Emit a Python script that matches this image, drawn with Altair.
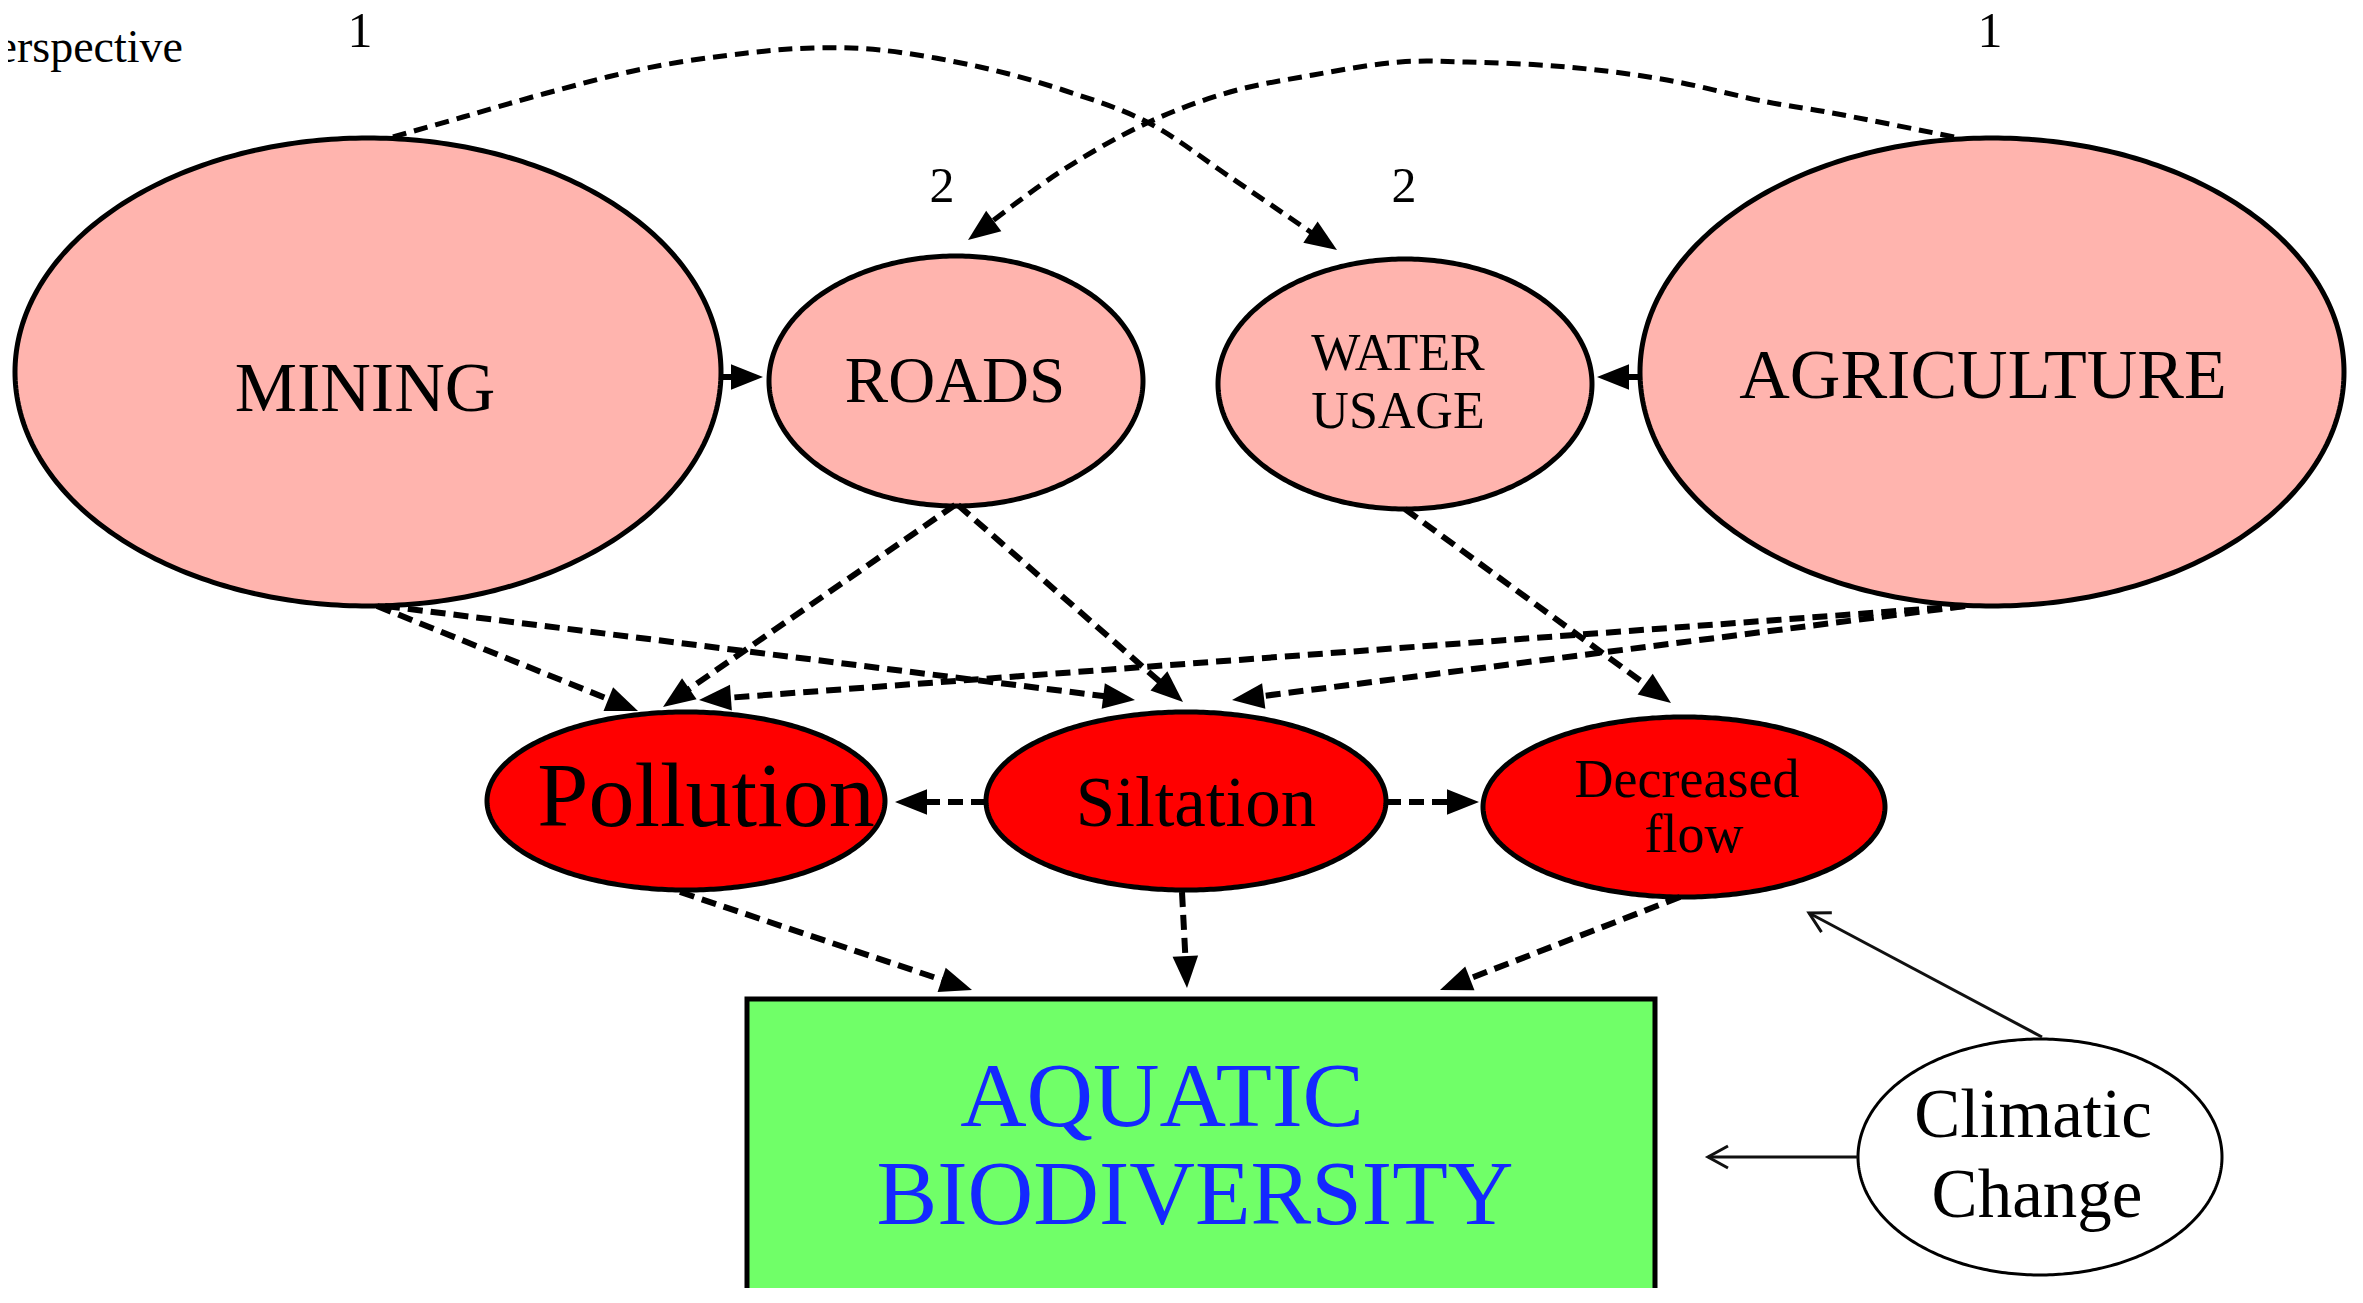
import math
import altair as alt
import pandas as pd

# ---------------- diagram content (pixel coordinates) ----------------
node_id = ["MINING", "ROADS", "WATER USAGE", "AGRICULTURE", "Pollution", "Siltation", "Decreased flow", "Climatic Change"]
node_cx = [368, 956, 1405, 1992, 686, 1186, 1684, 2040]
node_cy = [372, 381, 384, 372, 801, 801, 807, 1157]
node_rx = [353, 187, 187, 352, 199, 200, 201, 182]
node_ry = [234, 125, 125, 234, 89, 89, 90, 118]
node_group = ["driver", "driver", "driver", "driver", "impact", "impact", "impact", "external"]

box_label = ["AQUATIC", "BIODIVERSITY"]
box_x = [747, 1655]
box_y = [999, 1340]

# straight dashed links (start -> arrow tip)
edge_name = ["MINING>ROADS", "AGRICULTURE>WATER USAGE", "MINING>Pollution", "MINING>Siltation",
             "ROADS>Pollution", "ROADS>Siltation", "WATER USAGE>Decreased flow",
             "AGRICULTURE>Pollution", "AGRICULTURE>Siltation", "Siltation>Pollution",
             "Siltation>Decreased flow", "Pollution>BIO", "Siltation>BIO", "Decreased flow>BIO"]
edge_x1 = [721, 1640, 377, 385, 955, 958, 1405, 1965, 1965, 986, 1386, 680, 1182, 1680]
edge_y1 = [377, 377, 606, 606, 505, 505, 509, 606, 606, 802, 802, 892, 892, 897]
edge_x2 = [763, 1597, 638, 1135, 663, 1183, 1671, 699, 1232, 895, 1479, 972, 1187, 1440]
edge_y2 = [377, 377, 711, 700, 707, 702, 703, 700, 700, 802, 802, 990, 988, 990]

# solid links from Climatic Change
cc_name = ["Climatic>BIO", "Climatic>Decreased flow"]
cc_x1 = [1858, 2042]
cc_y1 = [1157, 1037]
cc_x2 = [1708, 1809]
cc_y2 = [1157, 913]

# curved dashed links (broad perspective, "1" -> "2")
curve1_x = [393, 463, 547, 647, 747, 813, 880, 980, 1063, 1147, 1230, 1337]
curve1_y = [137, 117, 93, 68, 53, 48, 50, 67, 90, 122, 177, 250]
curve2_x = [1954, 1827, 1767, 1667, 1567, 1467, 1400, 1313, 1230, 1147, 1063, 990, 968]
curve2_y = [137, 112, 102, 80, 67, 62, 62, 75, 92, 123, 170, 223, 240]

label_text = ["MINING", "ROADS", "WATER", "USAGE", "AGRICULTURE", "Pollution", "Siltation",
              "Decreased", "flow", "AQUATIC", "BIODIVERSITY", "Climatic", "Change", "1", "1", "2", "2"]
label_x = [365, 955, 1398, 1398, 1983, 706, 1196, 1687, 1694, 1162, 1195, 2033, 2037, 360, 1990, 942, 1404]
label_y = [411, 402, 370, 428, 398, 826, 826, 797, 852, 1126, 1224, 1137, 1217, 47, 47, 202, 202]
label_size = [70, 65, 52, 52, 70, 92, 71, 54, 54, 92, 91, 69, 69, 50, 50, 50, 50]

corner_text = ["Broad", "Perspective"]
corner_x = [82, 183]
corner_y = [4, 62]

# ---------------- styles ----------------
FONT = "Liberation Serif"
fill_of = {"driver": "#ffb4ae", "impact": "#ff0000", "external": "#ffffff"}
stroke_of = {"driver": 5, "impact": 5, "external": 3}
BLUE = "#1428ff"
GREEN = "#70ff68"
HEAD_LEN = 32
DASH_W = 6

W, H = 2345, 1280
xs = alt.Scale(domain=[8, 8 + W], nice=False, zero=False)
ys = alt.Scale(domain=[8, 8 + H], nice=False, zero=False, reverse=True)

# ---------------- build tables ----------------
fill_rows, outline_rows = [], []
for i, nid in enumerate(node_id):
    g = node_group[i]
    for k in range(181):
        th = math.pi * k / 180
        h = node_ry[i] * math.sin(th)
        fill_rows.append(dict(id=nid, x=node_cx[i] + node_rx[i] * math.cos(th),
                              y=node_cy[i] - h, y2=node_cy[i] + h, fill=fill_of[g]))
    for k in range(361):
        th = 2 * math.pi * k / 360
        outline_rows.append(dict(id=nid, k=k, x=node_cx[i] + node_rx[i] * math.cos(th),
                                 y=node_cy[i] + node_ry[i] * math.sin(th), sw=stroke_of[g]))
fill_df = pd.DataFrame(fill_rows)
outline_df = pd.DataFrame(outline_rows)


def heading(x0, y0, x1, y1):
    dx, dy = x1 - x0, y1 - y0
    n = math.hypot(dx, dy)
    ang = math.degrees(math.atan2(dx, -dy)) % 360
    return dx / n, dy / n, ang


line_rows, head_rows = [], []
for i, nm in enumerate(edge_name):
    ux, uy, ang = heading(edge_x1[i], edge_y1[i], edge_x2[i], edge_y2[i])
    line_rows.append(dict(edge=nm, k=0, x=edge_x1[i], y=edge_y1[i]))
    line_rows.append(dict(edge=nm, k=1, x=edge_x2[i] - ux * HEAD_LEN * 0.5, y=edge_y2[i] - uy * HEAD_LEN * 0.5))
    head_rows.append(dict(edge=nm, x=edge_x2[i], y=edge_y2[i], angle=ang))
lines_df = pd.DataFrame(line_rows)

curve_rows = []
for nm, cx_, cy_ in [("MINING>WATER USAGE", curve1_x, curve1_y), ("AGRICULTURE>ROADS", curve2_x, curve2_y)]:
    ux, uy, ang = heading(cx_[-3], cy_[-3], cx_[-1], cy_[-1])
    for k in range(len(cx_)):
        x, y = cx_[k], cy_[k]
        if k == len(cx_) - 1:
            x, y = x - ux * HEAD_LEN * 0.5, y - uy * HEAD_LEN * 0.5
        curve_rows.append(dict(edge=nm, k=k, x=x, y=y))
    head_rows.append(dict(edge=nm, x=cx_[-1], y=cy_[-1], angle=ang))
curves_df = pd.DataFrame(curve_rows)
heads_df = pd.DataFrame(head_rows)

cc_rows, cc_head_rows = [], []
for i, nm in enumerate(cc_name):
    ux, uy, ang = heading(cc_x1[i], cc_y1[i], cc_x2[i], cc_y2[i])
    cc_rows.append(dict(edge=nm, k=0, x=cc_x1[i], y=cc_y1[i]))
    cc_rows.append(dict(edge=nm, k=1, x=cc_x2[i], y=cc_y2[i]))
    cc_head_rows.append(dict(edge=nm, x=cc_x2[i], y=cc_y2[i], angle=ang))
cc_df = pd.DataFrame(cc_rows)
cc_heads_df = pd.DataFrame(cc_head_rows)

box_df = pd.DataFrame([dict(x=box_x[0], x2=box_x[1], y=box_y[0], y2=box_y[1])])

label_df = pd.DataFrame(dict(text=label_text, x=label_x, y=label_y, size=label_size,
                             color=[BLUE if t in box_label else "#000000" for t in label_text]))
corner_df = pd.DataFrame(dict(text=corner_text, x=corner_x, y=corner_y))

X = alt.X("x:Q", scale=xs, axis=None)
Y = alt.Y("y:Q", scale=ys, axis=None)

fills = alt.Chart(fill_df).mark_area(opacity=1).encode(
    x=X, y=alt.Y("y:Q", scale=ys, axis=None, stack=None), y2="y2:Q",
    color=alt.Color("fill:N", scale=None), detail="id:N")

outlines = alt.Chart(outline_df).mark_line(color="black").encode(
    x=X, y=Y, order="k:Q", detail="id:N", strokeWidth=alt.StrokeWidth("sw:Q", scale=None))

box = alt.Chart(box_df).mark_rect(fill=GREEN, stroke="black", strokeWidth=5, clip=True).encode(
    x=X, x2="x2:Q", y=alt.Y("y:Q", scale=ys, axis=None), y2="y2:Q")

dashed = alt.Chart(lines_df).mark_line(color="black", strokeWidth=DASH_W, strokeDash=[15, 8]).encode(
    x=X, y=Y, order="k:Q", detail="edge:N")

curves = alt.Chart(curves_df).mark_line(color="black", strokeWidth=DASH_W - 1, strokeDash=[14, 8],
                                        interpolate="catmull-rom").encode(
    x=X, y=Y, order="k:Q", detail="edge:N")

heads = alt.Chart(heads_df).mark_point(shape="M0,0L-0.8,2L0.8,2Z", filled=True, size=HEAD_LEN ** 2,
                                       color="black", opacity=1, strokeWidth=0).encode(
    x=X, y=Y, angle=alt.Angle("angle:Q", scale=None))

cc_lines = alt.Chart(cc_df).mark_line(color="#111111", strokeWidth=3).encode(
    x=X, y=Y, order="k:Q", detail="edge:N")

cc_heads = alt.Chart(cc_heads_df).mark_point(shape="M-0.55,1L0,0L0.55,1", filled=False, size=1600,
                                             color="#111111", opacity=1, strokeWidth=3).encode(
    x=X, y=Y, angle=alt.Angle("angle:Q", scale=None))

labels = alt.Chart(label_df).mark_text(font=FONT, baseline="alphabetic", align="center").encode(
    x=X, y=Y, text="text:N", size=alt.Size("size:Q", scale=None), color=alt.Color("color:N", scale=None))

corner = alt.Chart(corner_df).mark_text(font=FONT, baseline="alphabetic", align="right",
                                        fontSize=46, color="black").encode(x=X, y=Y, text="text:N")

chart = alt.layer(fills, outlines, box, dashed, curves, heads, cc_lines, cc_heads, labels, corner).properties(
    width=W, height=H, padding=0, autosize=alt.AutoSizeParams(type="none"), background="white"
).configure_view(strokeWidth=0)

chart.save("out.html", embed_options={"renderer": "svg", "actions": False})
